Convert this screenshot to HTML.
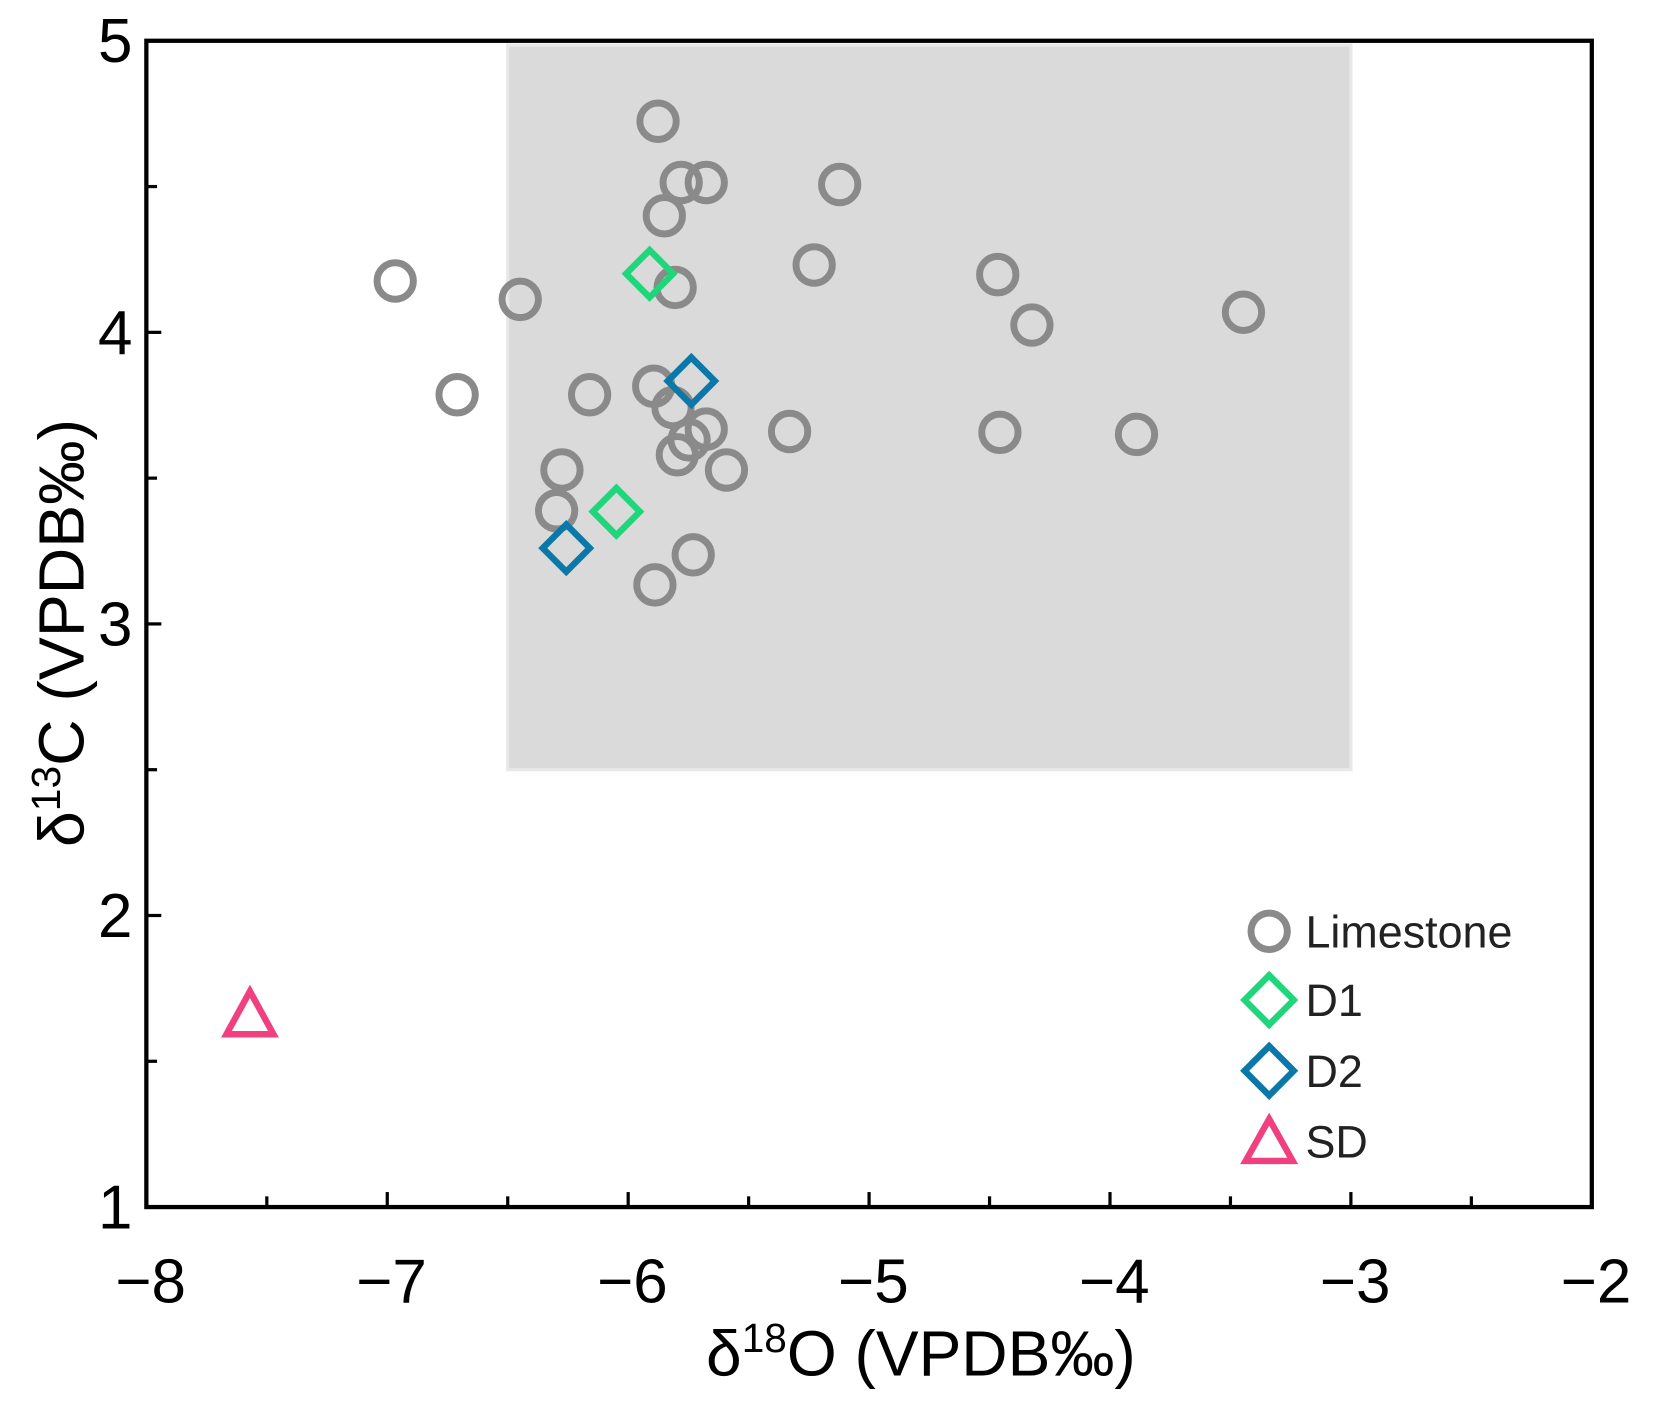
<!DOCTYPE html>
<html><head><meta charset="utf-8"><style>
html,body{margin:0;padding:0;background:#fff;}
svg{display:block;font-family:"Liberation Sans",Arial,sans-serif;}
</style></head><body>
<svg id="chart" width="1673" height="1412" viewBox="0 0 1566 1316" preserveAspectRatio="none" xmlns="http://www.w3.org/2000/svg">
<g id="g"></g>
</svg>
<script>
const xTicks=[-8,-7,-6,-5,-4,-3,-2];
const yTicks=[1,2,3,4,5];
const limeX=[-5.876,-5.78,-5.676,-5.122,-5.85,-6.967,-6.448,-5.805,-5.228,-4.466,-4.324,-3.446,-6.71,-6.16,-5.894,-5.814,-5.676,-5.747,-5.796,-5.33,-4.457,-3.89,-6.275,-5.592,-6.297,-5.73,-5.889];
const limeY=[4.724,4.514,4.514,4.507,4.40,4.176,4.113,4.154,4.231,4.198,4.025,4.069,3.786,3.786,3.815,3.742,3.668,3.631,3.58,3.66,3.657,3.65,3.528,3.528,3.388,3.237,3.134];
const d1X=[-5.911,-6.049];
const d1Y=[4.201,3.385];
const d2X=[-5.738,-6.257];
const d2Y=[3.833,3.26];
const sdX=[-7.57];
const sdY=[1.659];
const shadeX=[-6.5,-3];
const shadeY=[2.5,5];

const L=137,R=1490,T=38,B=1125,xmin=-8,xmax=-2,ymin=1,ymax=5;
const sx=v=>L+(v-xmin)/(xmax-xmin)*(R-L);
const sy=v=>B-(v-ymin)/(ymax-ymin)*(B-T);
const NS="http://www.w3.org/2000/svg";
const g=document.getElementById('g');
function mk(tag,attrs,parent){const e=document.createElementNS(NS,tag);for(const k in attrs)e.setAttribute(k,attrs[k]);(parent||g).appendChild(e);return e;}

let r=mk('rect',{x:sx(shadeX[0]),y:sy(shadeY[1])+4,width:sx(shadeX[1])-sx(shadeX[0]),height:sy(shadeY[0])-sy(shadeY[1])-4,fill:'#dadada',stroke:'#e8e8e8','stroke-width':3});



for(let v=xmin;v<=xmax;v+=0.5){const x=sx(v);const len=(v%1===0)?14:10;
 mk('line',{x1:x,y1:B,x2:x,y2:B-len,stroke:'#000','stroke-width':3});}
for(let v=ymin;v<=ymax;v+=0.5){const y=sy(v);const len=(v%1===0)?14:10;
 mk('line',{x1:L,y1:y,x2:L+len,y2:y,stroke:'#000','stroke-width':3});}
xTicks.forEach(v=>{const t=mk('text',{x:sx(v)+4,y:1214,'font-size':58,'text-anchor':'middle',fill:'#000'});t.textContent=String(v).replace('-','\u2212');
 
 });
yTicks.forEach(v=>{const t=mk('text',{x:124,y:sy(v)+20,'font-size':58,'text-anchor':'end',fill:'#000'});t.textContent=v;
 
 });

const frame=mk('rect',{x:L,y:T,width:R-L,height:B-T,fill:'none',stroke:'#000','stroke-width':4});



function circle(x,y){return mk('circle',{cx:x,cy:y,r:17,fill:'none',stroke:'#8a8a8a','stroke-width':6.5});}
function diamond(x,y,col){return mk('polygon',{points:`${x},${y-22} ${x+22},${y} ${x},${y+22} ${x-22},${y}`,fill:'none',stroke:col,'stroke-width':6});}
function tri(x,y){return mk('polygon',{points:`${x},${y-22} ${x+22},${y+18} ${x-22},${y+18}`,fill:'none',stroke:'#f0407f','stroke-width':6});}

limeX.forEach((v,i)=>{const c=circle(sx(v),sy(limeY[i]));
 
 });
d1X.forEach((v,i)=>{const c=diamond(sx(v),sy(d1Y[i]),'#1fd67a');
 
 });
d2X.forEach((v,i)=>{const c=diamond(sx(v),sy(d2Y[i]),'#0b78a8');
 
 });
sdX.forEach((v,i)=>{const c=tri(sx(v),sy(sdY[i]));
 
 });

const lg=mk('g',{});


const items=[['Limestone',868],['D1',932],['D2',998],['SD',1064]];
mk('circle',{cx:1188,cy:868,r:17,fill:'none',stroke:'#8a8a8a','stroke-width':6.5},lg);
mk('polygon',{points:'1188,909 1211,932 1188,955 1165,932',fill:'none',stroke:'#1fd67a','stroke-width':6},lg);
mk('polygon',{points:'1188,975 1211,998 1188,1021 1165,998',fill:'none',stroke:'#0b78a8','stroke-width':6},lg);
mk('polygon',{points:'1188,1043 1210,1082 1166,1082',fill:'none',stroke:'#f0407f','stroke-width':6},lg);
items.forEach(([t,y])=>{const e=mk('text',{x:1222,y:y+15,'font-size':42,fill:'#222'},lg);e.textContent=t;
 
 });

const xt=mk('text',{x:862,y:1282,'font-size':60,'text-anchor':'middle',fill:'#000'});
xt.innerHTML='δ<tspan font-size="38" dy="-22">18</tspan><tspan dy="22">O (VPDB‰)</tspan>';


const yt=mk('text',{x:0,y:0,'font-size':60,'text-anchor':'middle',fill:'#000',transform:'translate(78,590) rotate(-90)'});
yt.innerHTML='δ<tspan font-size="38" dy="-22">13</tspan><tspan dy="22">C (VPDB‰)</tspan>';


</script>
</body></html>
